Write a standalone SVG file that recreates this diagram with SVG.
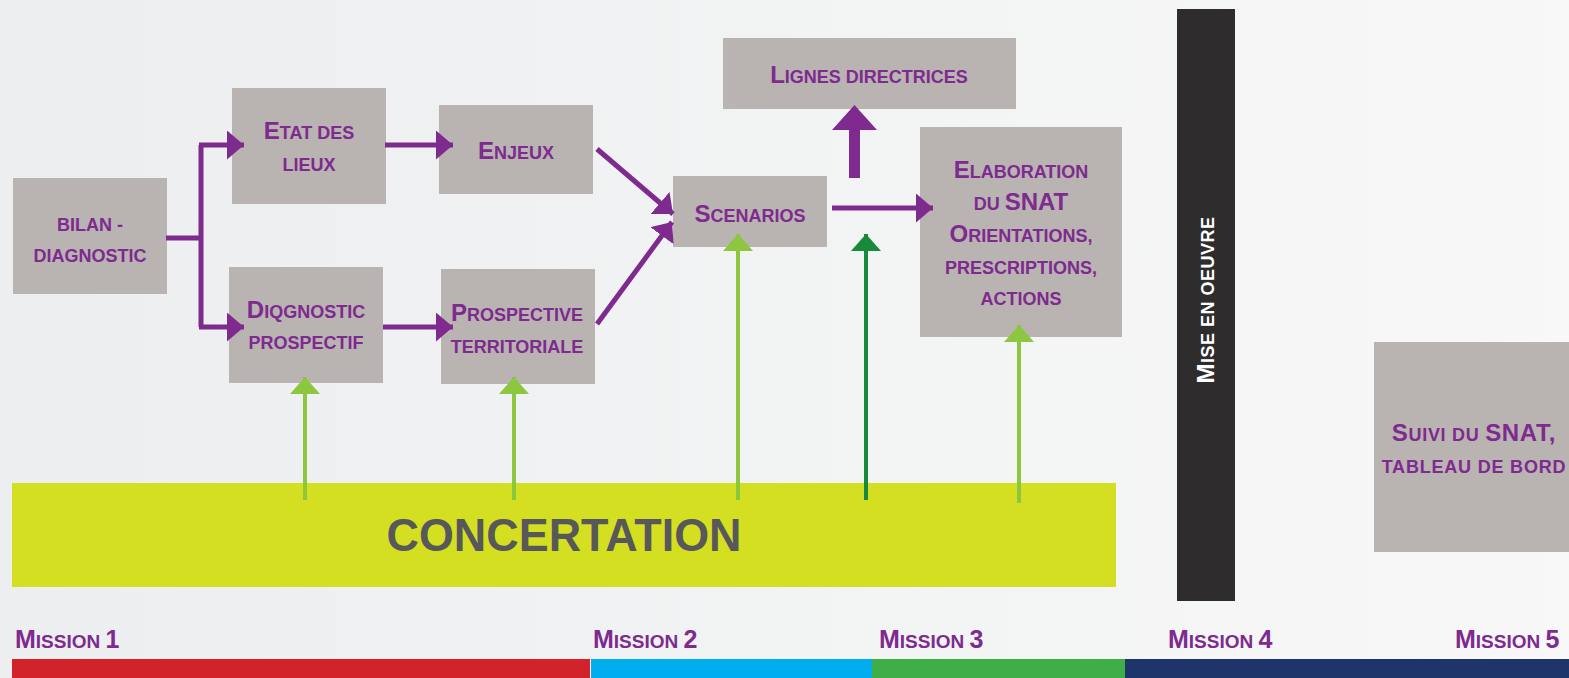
<svg xmlns="http://www.w3.org/2000/svg" width="1569" height="678" viewBox="0 0 1569 678">
<defs>
<linearGradient id="bg" x1="0" y1="0" x2="1" y2="0">
<stop offset="0" stop-color="#eceeef"/>
<stop offset="1" stop-color="#f8f8f8"/>
</linearGradient>
<marker id="ap" viewBox="0 0 17 29" refX="17" refY="14.5" markerWidth="17" markerHeight="29" markerUnits="userSpaceOnUse" orient="auto">
<path d="M0,0 L17,14.5 L0,29 Z" fill="#7e2a8e"/>
</marker>
<marker id="ag" viewBox="0 0 17 30" refX="17" refY="15" markerWidth="17" markerHeight="30" markerUnits="userSpaceOnUse" orient="auto">
<path d="M0,0 L17,15 L0,30 Z" fill="#8dc63f"/>
</marker>
<marker id="agd" viewBox="0 0 17 30" refX="17" refY="15" markerWidth="17" markerHeight="30" markerUnits="userSpaceOnUse" orient="auto">
<path d="M0,0 L17,15 L0,30 Z" fill="#178a3c"/>
</marker>
</defs>
<style>
.box{fill:#b9b3b2}
.t{font-family:"Liberation Sans",Arial,sans-serif;font-weight:bold;fill:#7e2a8e;text-anchor:middle}
.b{font-size:24px}
.s{font-size:18px}
.m{font-family:"Liberation Sans",Arial,sans-serif;font-weight:bold;fill:#7e2a8e}
.pl{fill:none;stroke:#7e2a8e;stroke-width:5}
.gl{fill:none;stroke:#8dc63f;stroke-width:4}
.gd{fill:none;stroke:#178a3c;stroke-width:4}
</style>
<rect x="0" y="0" width="1569" height="678" fill="url(#bg)"/>

<g id="concertation">
<rect x="12" y="483" width="1104" height="104" fill="#d4df22"/>
<text x="564" y="551" font-family="'Liberation Sans',Arial,sans-serif" font-weight="bold" font-size="47" fill="#58585a" text-anchor="middle" textLength="355" lengthAdjust="spacingAndGlyphs">CONCERTATION</text>
</g>

<g id="bilan">
<rect class="box" x="13" y="178" width="154" height="116"/>
<text class="t s" x="90" y="231">BILAN -</text>
<text class="t s" x="90" y="262">DIAGNOSTIC</text>
</g>
<g id="etat">
<rect class="box" x="232" y="88" width="154" height="116"/>
<text class="t" x="309" y="139"><tspan class="b">E</tspan><tspan class="s">TAT DES</tspan></text>
<text class="t s" x="309" y="171">LIEUX</text>
</g>
<g id="enjeux">
<rect class="box" x="439" y="105" width="154" height="89"/>
<text class="t" x="516" y="159"><tspan class="b">E</tspan><tspan class="s">NJEUX</tspan></text>
</g>
<g id="diqgnostic">
<rect class="box" x="229" y="267" width="154" height="116"/>
<text class="t" x="306" y="318"><tspan class="b">D</tspan><tspan class="s">IQGNOSTIC</tspan></text>
<text class="t s" x="306" y="349">PROSPECTIF</text>
</g>
<g id="prospective">
<rect class="box" x="441" y="269" width="154" height="115"/>
<text class="t" x="517" y="321"><tspan class="b">P</tspan><tspan class="s">ROSPECTIVE</tspan></text>
<text class="t s" x="517" y="353">TERRITORIALE</text>
</g>
<g id="scenarios">
<rect class="box" x="673" y="176" width="154" height="71"/>
<text class="t" x="750" y="222"><tspan class="b">S</tspan><tspan class="s">CENARIOS</tspan></text>
</g>
<g id="lignes">
<rect class="box" x="723" y="38" width="293" height="71"/>
<text class="t" x="869" y="83"><tspan class="b">L</tspan><tspan class="s">IGNES DIRECTRICES</tspan></text>
</g>
<g id="elaboration">
<rect class="box" x="920" y="127" width="202" height="210"/>
<text class="t" x="1021" y="178"><tspan class="b">E</tspan><tspan class="s">LABORATION</tspan></text>
<text class="t" x="1021" y="210"><tspan class="s">DU </tspan><tspan class="b">SNAT</tspan></text>
<text class="t" x="1021" y="242"><tspan class="b">O</tspan><tspan class="s">RIENTATIONS,</tspan></text>
<text class="t s" x="1021" y="274">PRESCRIPTIONS,</text>
<text class="t s" x="1021" y="305">ACTIONS</text>
</g>
<g id="mise-en-oeuvre">
<rect x="1177" y="9" width="58" height="592" fill="#2e2c2d"/>
<text class="t" x="0" y="0" transform="translate(1214,300) rotate(-90)" style="fill:#ffffff" letter-spacing="0.5"><tspan class="b">M</tspan><tspan class="s">ISE EN OEUVRE</tspan></text>
</g>
<g id="suivi">
<rect class="box" x="1374" y="342" width="200" height="210"/>
<text class="t" x="1474" y="441" letter-spacing="0.7"><tspan class="b">S</tspan><tspan class="s">UIVI DU </tspan><tspan class="b">SNAT,</tspan></text>
<text class="t s" x="1474" y="473" letter-spacing="0.8">TABLEAU DE BORD</text>
</g>

<g id="connectors">
<path class="pl" d="M166,238 H201 M201,145 V327"/>
<path class="pl" d="M199,145 H244" marker-end="url(#ap)"/>
<path class="pl" d="M199,327 H244" marker-end="url(#ap)"/>
<path class="pl" d="M385,145 H453" marker-end="url(#ap)"/>
<path class="pl" d="M383,327 H453" marker-end="url(#ap)"/>
<path class="pl" d="M597,149 L673,214" marker-end="url(#ap)"/>
<path class="pl" d="M597,324 L672,222" marker-end="url(#ap)"/>
<path class="pl" d="M832,208 H933" marker-end="url(#ap)"/>
<polygon points="849,178 860,178 860,130 877,130 854.5,105 832,130 849,130" fill="#7e2a8e"/>
<path class="gl" d="M305,500 V377" marker-end="url(#ag)"/>
<path class="gl" d="M514,500 V377" marker-end="url(#ag)"/>
<path class="gl" d="M738,500 V234" marker-end="url(#ag)"/>
<path class="gd" d="M866,500 V234" marker-end="url(#agd)"/>
<path class="gl" d="M1019,503 V325" marker-end="url(#ag)"/>
</g>

<g id="missions">
<rect x="12" y="659" width="578" height="19" fill="#d2232a"/>
<rect x="591" y="659" width="281" height="19" fill="#00aeef"/>
<rect x="872" y="659" width="253" height="19" fill="#3fae49"/>
<rect x="1125" y="659" width="444" height="19" fill="#1e356b"/>
<text class="m" x="15" y="648"><tspan font-size="25">M</tspan><tspan font-size="19">ISSION </tspan><tspan font-size="25">1</tspan></text>
<text class="m" x="593" y="648"><tspan font-size="25">M</tspan><tspan font-size="19">ISSION </tspan><tspan font-size="25">2</tspan></text>
<text class="m" x="879" y="648"><tspan font-size="25">M</tspan><tspan font-size="19">ISSION </tspan><tspan font-size="25">3</tspan></text>
<text class="m" x="1168" y="648"><tspan font-size="25">M</tspan><tspan font-size="19">ISSION </tspan><tspan font-size="25">4</tspan></text>
<text class="m" x="1455" y="648"><tspan font-size="25">M</tspan><tspan font-size="19">ISSION </tspan><tspan font-size="25">5</tspan></text>
</g>
</svg>
